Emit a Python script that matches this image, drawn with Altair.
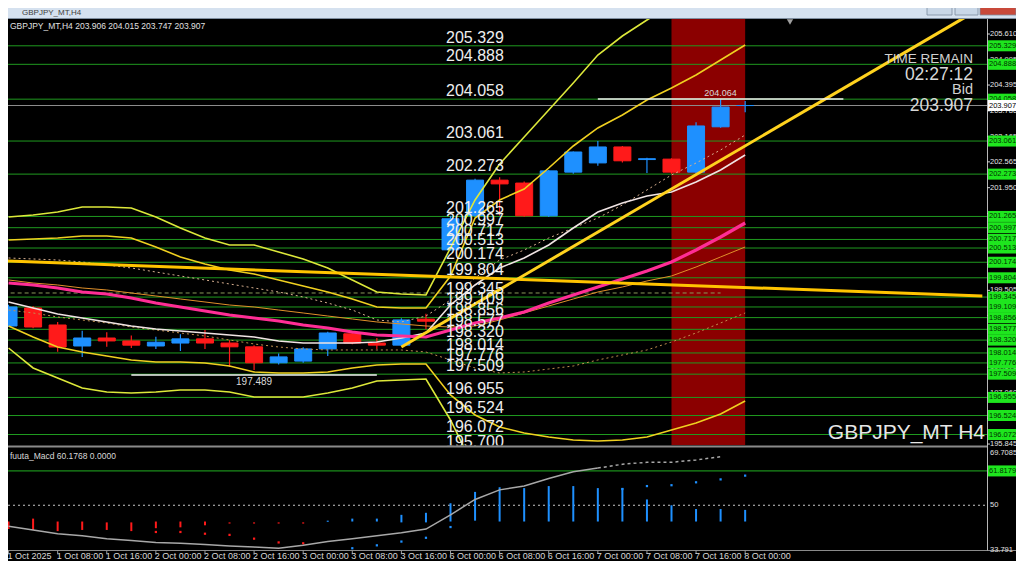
import altair as alt
import numpy as np
import pandas as pd

# ------------------------------------------------------------------ data
window_title = "GBPJPY_MT,H4"
ohlc_header = "GBPJPY_MT,H4  203.906 204.015 203.747 203.907"
macd_header = "fuuta_Macd 60.1768  0.0000"
corner_label = "GBPJPY_MT H4"
time_remain = "02:27:12"
bid_price = 203.907

bar_index = list(range(31))
opens = [198.656, 199.085, 198.680, 198.180, 198.370, 198.300, 198.180, 198.250, 198.350, 198.250,
         198.160, 197.780, 197.820, 198.110, 198.470, 198.250, 198.200, 198.820, 200.470, 201.290,
         202.130, 202.060, 201.280, 202.320, 202.540, 202.920, 202.620, 202.630, 202.320, 203.400, 203.906]
highs = [199.160, 199.130, 198.750, 198.540, 198.510, 198.430, 198.400, 198.460, 198.560, 198.320,
         198.200, 198.000, 198.150, 198.520, 198.500, 198.370, 198.840, 198.950, 201.280, 202.160,
         202.200, 202.100, 202.370, 202.810, 203.060, 202.940, 202.660, 202.650, 203.510, 204.064, 204.015]
lows = [198.630, 198.600, 198.040, 197.920, 198.160, 198.130, 198.110, 198.060, 198.110, 197.680,
        197.610, 197.740, 197.780, 197.940, 198.220, 198.110, 198.180, 198.580, 200.450, 201.250,
        201.290, 201.260, 201.250, 202.280, 202.470, 202.550, 202.300, 202.280, 202.280, 203.380, 203.747]
closes = [199.109, 198.632, 198.156, 198.370, 198.300, 198.200, 198.270, 198.350, 198.250, 198.160,
          197.780, 197.920, 198.110, 198.490, 198.250, 198.200, 198.800, 198.770, 201.210, 202.130,
          202.040, 201.280, 202.350, 202.800, 202.920, 202.590, 202.640, 202.320, 203.420, 203.870, 203.907]

time_label_bars = [0, 2, 4, 6, 8, 10, 12, 14, 16, 18, 20, 22, 24, 26, 28, 30]
time_labels = ["1 Oct 2025", "1 Oct 08:00", "1 Oct 16:00", "2 Oct 00:00", "2 Oct 08:00", "2 Oct 16:00",
               "3 Oct 00:00", "3 Oct 08:00", "3 Oct 16:00", "6 Oct 00:00", "6 Oct 08:00", "6 Oct 16:00",
               "7 Oct 00:00", "7 Oct 08:00", "7 Oct 16:00", "8 Oct 00:00"]

levels = [205.329, 204.888, 204.058, 203.061, 202.273, 201.265, 200.997, 200.717, 200.513, 200.174,
          199.804, 199.345, 199.109, 198.856, 198.577, 198.320, 198.014, 197.776, 197.509, 196.955,
          196.524, 196.072, 195.700]
price_ticks = [205.610, 204.995, 204.395, 203.780, 203.165, 202.565, 201.950, 201.335, 200.735, 200.120,
               199.505, 198.905, 198.290, 197.675, 197.060, 196.460, 195.845]

# highlighted session (bar index range)
highlight_from, highlight_to = 27, 30

# indicator lines (price per bar, starting at bar 0)
band_outer_upper = [201.252, 201.300, 201.371, 201.490, 201.490, 201.466, 201.252, 200.990, 200.752, 200.585,
                    200.585, 200.419, 200.252, 200.038, 199.752, 199.466, 199.418, 199.395, 200.514, 201.657,
                    202.514, 203.157, 203.800, 204.443, 205.110, 205.562, 205.943, 206.301]
band_inner_upper = [200.704, 200.728, 200.752, 200.800, 200.800, 200.752, 200.538, 200.300, 200.133, 199.990,
                    199.895, 199.752, 199.609, 199.466, 199.299, 199.109, 199.085, 199.085, 199.847, 201.228,
                    201.657, 201.919, 202.419, 202.943, 203.372, 203.681, 204.038, 204.324, 204.634, 204.991, 205.348]
band_inner_lower = [198.656, 198.394, 198.156, 198.037, 197.942, 197.847, 197.799, 197.799, 197.775, 197.704,
                    197.561, 197.537, 197.537, 197.561, 197.656, 197.728, 197.751, 197.751, 197.013, 196.537,
                    196.251, 196.108, 196.013, 195.941, 195.918, 195.941, 196.013, 196.180, 196.346, 196.561, 196.870]
band_outer_lower = [198.132, 197.656, 197.418, 197.180, 197.085, 197.061, 197.085, 197.132, 197.132, 197.085,
                    196.965, 196.965, 196.965, 197.061, 197.180, 197.347, 197.370, 197.394, 196.418, 195.227, 194.512]
ma_pink = [199.680, 199.633, 199.561, 199.466, 199.418, 199.323, 199.204, 199.109, 199.014, 198.918,
           198.847, 198.775, 198.680, 198.609, 198.513, 198.442, 198.418, 198.394, 198.561, 198.728,
           198.847, 198.990, 199.204, 199.395, 199.585, 199.776, 199.966, 200.180, 200.466, 200.776, 201.109]
ma_white = [199.228, 199.085, 198.942, 198.847, 198.752, 198.656, 198.585, 198.537, 198.490, 198.442,
            198.394, 198.299, 198.251, 198.251, 198.251, 198.275, 198.371, 198.490, 199.156, 199.633,
            200.038, 200.276, 200.585, 200.990, 201.371, 201.586, 201.752, 201.848, 202.086, 202.371, 202.729]
ma_orange = [199.752, 199.680, 199.633, 199.561, 199.514, 199.442, 199.371, 199.299, 199.228, 199.156,
             199.109, 199.037, 198.966, 198.894, 198.823, 198.752, 198.704, 198.656, 198.632, 198.656,
             198.799, 198.966, 199.133, 199.299, 199.466, 199.585, 199.728, 199.847, 200.061, 200.300, 200.538]
dotted_upper = [200.276, 200.252, 200.228, 200.180, 200.109, 200.038, 199.942, 199.847, 199.752, 199.657,
                199.561, 199.466, 199.347, 199.204, 199.037, 198.799, 198.752, 198.894, 199.275, 199.799,
                200.228, 200.466, 200.752, 200.990, 201.228, 201.538, 201.895, 202.252, 202.538, 202.848, 203.205]
dotted_lower = [199.037, 198.966, 198.871, 198.799, 198.728, 198.632, 198.561, 198.490, 198.418, 198.323,
                198.228, 198.156, 198.109, 198.085, 198.085, 198.085, 198.085, 198.037, 197.847, 197.656,
                197.537, 197.561, 197.632, 197.704, 197.847, 197.966, 198.085, 198.275, 198.490, 198.728, 198.966]
flat_trend_bars, flat_trend_prices = [-0.14, 39.66], [200.204, 199.371]
rising_trend_bars, rising_trend_prices = [16.0, 39.0], [198.156, 206.024]
dashed_level, dashed_from, dashed_to = 199.442, -0.2, 29.0
high_mark, high_from, high_to = 204.064, 24, 34
low_mark, low_from, low_to = 197.489, 5, 15

# oscillator panel
macd_line = [42.8, 41.5, 40.2, 39.5, 38.5, 37.9, 37.2, 36.9, 36.5, 36.0, 35.6, 35.2, 36.2, 37.5, 38.5,
             39.5, 40.5, 41.8, 46.7, 52.0, 55.3, 56.6, 59.2, 61.5, 62.8, 64.1, 64.8, 64.8, 65.6, 66.7]
hist_hi = [44.4, 45.4, 44.4, 44.4, 44.1, 44.1, 44.4, 44.4, 44.4, 44.1, 44.1, 44.1, 44.1, 44.7, 45.4, 45.4,
           46.7, 47.4, 50.7, 54.6, 56.2, 55.9, 56.6, 56.6, 55.9, 55.9, 52.0, 50.0, 48.7, 48.7, 48.4]
hist_lo = [41.8, 41.5, 41.1, 41.5, 41.5, 41.1, 42.1, 42.4, 43.1, 43.7, 43.7, 43.7, 43.7, 44.3, 44.4, 44.4,
           44.1, 44.1, 44.4, 44.7, 44.4, 44.4, 44.4, 44.4, 44.4, 44.4, 44.4, 44.4, 44.4, 44.4, 44.4]
hist_dir = ["down"] * 13 + ["up"] * 18
low_dot_bars = [6, 7, 8, 9, 10, 11, 12, 14, 15, 16, 17, 18]
low_dot_vals = [40.8, 40.8, 40.2, 39.8, 38.5, 37.2, 36.9, 35.2, 36.2, 37.5, 38.8, 42.5]
low_dot_dir = ["down"] * 7 + ["up"] * 5
up_dot_bars = [25, 26, 27, 28, 29, 30]
up_dot_vals = [55.6, 56.6, 56.9, 57.9, 58.9, 60.2]
macd_level, macd_mid = 61.8179, 50.0
macd_axis = [(69.7085, "69.7085"), (50.0, "50"), (33.791, "33.791")]

# ------------------------------------------------------------------ layout / style
W, H = 1008, 553
X_DOM = [0.18145, 40.827]
PRICE_DOM = [193.0594, 206.2292]
MACD_DOM = [30.810, 221.171]
PANEL_TOP, PANEL_BOT, AXIS_X = 11, 437, 979
FONT = "Liberation Sans, Arial, sans-serif"
BLUE, RED = "#1e90ff", "#ff1a1a"
GREEN = "#1f9a1f"
BOX_GREEN = "#1ee61e"
AXIS_FS = 7.5
BOX_HALF = 5.5 / 41.99
MACD_BOX_HALF = 5.5 / 2.905
HIDDEN_GAP = 0.09  # tick labels closer than this to a level box are fully hidden by it


def xq(f="i"):
    return alt.X(f"{f}:Q", scale=alt.Scale(domain=X_DOM, nice=False, zero=False), axis=None)


def yp(f):
    return alt.Y(f"{f}:Q", scale=alt.Scale(domain=PRICE_DOM, nice=False, zero=False), axis=None)


def ym(f):
    return alt.Y(f"{f}:Q", scale=alt.Scale(domain=MACD_DOM, nice=False, zero=False), axis=None)


dir_color = alt.Color("dir:N", scale=alt.Scale(domain=["up", "down"], range=[BLUE, RED]), legend=None)
dir_stroke = alt.Stroke("dir:N", scale=alt.Scale(domain=["up", "down"], range=[BLUE, RED]), legend=None)
one = pd.DataFrame({"k": [0]})
layers = []


def label(text, x, y, size, color="#e6e6e6", align="left", baseline="middle"):
    return alt.Chart(one).mark_text(text=text, fontSize=size, color=color, align=align, font=FONT,
                                    baseline=baseline).encode(x=alt.value(x), y=alt.value(y))


def price_line(bars, vals, color, width, dash=None):
    df = pd.DataFrame({"i": bars, "p": vals})
    kw = dict(color=color, strokeWidth=width, clip=True)
    if dash:
        kw["strokeDash"] = dash
    return alt.Chart(df).mark_line(**kw).encode(x=xq(), y=yp("p"))


def series(vals, color, width, dash=None):
    return price_line(list(range(len(vals))), vals, color, width, dash)


# --- main panel
layers.append(alt.Chart(pd.DataFrame({"a": [highlight_from], "b": [highlight_to]})).mark_rect(color="#8b0000")
              .encode(x=xq("a"), x2=alt.X2("b"), y=alt.value(PANEL_TOP), y2=alt.value(PANEL_BOT)))
lev_df = pd.DataFrame({"p": levels, "t": [f"{v:.3f}" for v in levels]})
layers.append(alt.Chart(lev_df).mark_rule(color=GREEN, strokeWidth=1)
              .encode(y=yp("p"), x=alt.value(0), x2=alt.value(AXIS_X)))
layers.append(alt.Chart(pd.DataFrame({"a": [dashed_from], "b": [dashed_to], "p": [dashed_level]}))
              .mark_rule(color="#8a9a5a", strokeWidth=1, strokeDash=[4, 3])
              .encode(x=xq("a"), x2=alt.X2("b"), y=yp("p")))
layers.append(alt.Chart(pd.DataFrame({"p": [bid_price]})).mark_rule(color="#8c8c8c", strokeWidth=1)
              .encode(y=yp("p"), x=alt.value(0), x2=alt.value(AXIS_X)))

cdf = pd.DataFrame({"i": bar_index, "o": opens, "h": highs, "l": lows, "c": closes})
cdf["dir"] = np.where(cdf.c >= cdf.o, "up", "down")
layers.append(alt.Chart(cdf).mark_rule(strokeWidth=1.2).encode(x=xq(), y=yp("l"), y2=alt.Y2("h"), color=dir_color))
layers.append(alt.Chart(cdf).mark_bar(size=17, strokeWidth=1)
              .encode(x=xq(), y=yp("o"), y2=alt.Y2("c"), color=dir_color, stroke=dir_stroke))

layers.append(series(ma_orange, "#e0902a", 1))
layers.append(series(dotted_upper, "#d8b090", 1, [2, 3]))
layers.append(series(dotted_lower, "#c09050", 1, [2, 3]))
layers.append(series(band_outer_lower, "#dde83a", 1.6))
layers.append(series(band_inner_lower, "#f0d020", 1.6))
layers.append(series(band_inner_upper, "#f0d020", 1.6))
layers.append(series(band_outer_upper, "#dde83a", 1.6))
layers.append(series(ma_white, "#f0e4e4", 1.6))
layers.append(series(ma_pink, "#ff2d95", 3.2))
layers.append(price_line(flat_trend_bars, flat_trend_prices, "#ffc400", 3))
layers.append(price_line(rising_trend_bars, rising_trend_prices, "#ffd21e", 3))

for p, a, b, dy, size in [(high_mark, high_from, high_to, -6, 9), (low_mark, low_from, low_to, 7, 10)]:
    d = pd.DataFrame({"a": [a], "b": [b], "m": [(a + b) / 2], "p": [p], "t": [f"{p:.3f}"]})
    layers.append(alt.Chart(d).mark_rule(color="#f2f2f2", strokeWidth=1.5)
                  .encode(x=xq("a"), x2=alt.X2("b"), y=yp("p")))
    layers.append(alt.Chart(d).mark_text(fontSize=size, color="#d8d8d8", font=FONT, dy=dy, baseline="middle")
                  .encode(x=xq("m"), y=yp("p"), text="t:N"))

layers.append(alt.Chart(lev_df).mark_text(fontSize=16, color="#eeeeee", font=FONT, align="left",
                                          baseline="alphabetic", dy=-3)
              .encode(x=alt.value(438), y=yp("p"), text="t:N"))

layers.append(label("TIME REMAIN", 965, 51, 13.5, "#d0d0d0", "right"))
layers.append(label(time_remain, 965, 67, 17.5, "#d8d8d8", "right"))
layers.append(label("Bid", 965, 82, 14.5, "#d0d0d0", "right"))
layers.append(label(f"{bid_price:.3f}", 965, 98, 17.5, "#d8d8d8", "right"))
layers.append(label(corner_label, 977, 425, 21, "#e6e6e6", "right"))
layers.append(label(ohlc_header, 2, 18, 8.5, "#e0e0e0"))

# --- oscillator panel
layers.append(alt.Chart(one).mark_rect(color="#000000")
              .encode(x=alt.value(0), x2=alt.value(W), y=alt.value(PANEL_BOT + 0.5), y2=alt.value(H)))
layers.append(alt.Chart(one).mark_rule(color="#8a8a8a", strokeWidth=2)
              .encode(x=alt.value(0), x2=alt.value(W), y=alt.value(438.5)))
layers.append(alt.Chart(pd.DataFrame({"v": [macd_level]})).mark_rule(color="#22b022", strokeWidth=1)
              .encode(y=ym("v"), x=alt.value(0), x2=alt.value(AXIS_X)))
layers.append(alt.Chart(pd.DataFrame({"v": [macd_mid]})).mark_rule(color="#c8c8c8", strokeWidth=1, strokeDash=[2, 3])
              .encode(y=ym("v"), x=alt.value(0), x2=alt.value(AXIS_X)))
hdf = pd.DataFrame({"i": bar_index, "lo": hist_lo, "hi": hist_hi, "dir": hist_dir})
layers.append(alt.Chart(hdf).mark_rule(strokeWidth=2).encode(x=xq(), y=ym("lo"), y2=alt.Y2("hi"), color=dir_color))
ldf = pd.DataFrame({"i": low_dot_bars, "v": low_dot_vals, "dir": low_dot_dir})
layers.append(alt.Chart(ldf).mark_square(size=5, filled=True, opacity=1).encode(x=xq(), y=ym("v"), color=dir_color))
udf = pd.DataFrame({"i": up_dot_bars, "v": up_dot_vals, "dir": ["up"] * len(up_dot_bars)})
layers.append(alt.Chart(udf).mark_square(size=5, filled=True, opacity=1).encode(x=xq(), y=ym("v"), color=dir_color))
mdf = pd.DataFrame({"i": list(range(len(macd_line))), "v": macd_line})
layers.append(alt.Chart(mdf[mdf.i <= 24]).mark_line(color="#a8a8a8", strokeWidth=1.5).encode(x=xq(), y=ym("v")))
layers.append(alt.Chart(mdf[mdf.i >= 24]).mark_line(color="#a8a8a8", strokeWidth=1.5, strokeDash=[3, 3])
              .encode(x=xq(), y=ym("v")))
layers.append(label(macd_header, 2, 448, 8.5, "#d8d8d8"))

# bottom border and time axis
layers.append(alt.Chart(one).mark_rule(color="#8a8a8a", strokeWidth=1)
              .encode(x=alt.value(0), x2=alt.value(W), y=alt.value(542.5)))
tdf = pd.DataFrame({"i": time_label_bars, "t": time_labels})
layers.append(alt.Chart(tdf).mark_rule(color="#9a9a9a").encode(x=xq(), y=alt.value(542.5), y2=alt.value(546)))
layers.append(alt.Chart(tdf).mark_text(fontSize=9, color="#d8d8d8", font=FONT, align="left", dx=-1,
                                       baseline="middle").encode(x=xq(), y=alt.value(548), text="t:N"))

# --- right price axis
layers.append(alt.Chart(one).mark_rect(color="#000000")
              .encode(x=alt.value(AXIS_X + 0.5), x2=alt.value(W), y=alt.value(PANEL_TOP), y2=alt.value(542)))
layers.append(alt.Chart(one).mark_rule(color="#b8b8b8", strokeWidth=1)
              .encode(x=alt.value(AXIS_X + 0.5), y=alt.value(PANEL_TOP), y2=alt.value(542.5)))
tick_df = pd.DataFrame({"p": price_ticks, "t": [f"{v:.3f}" for v in price_ticks]})
layers.append(alt.Chart(tick_df).mark_rule(color="#d0d0d0")
              .encode(y=yp("p"), x=alt.value(AXIS_X), x2=alt.value(AXIS_X + 3)))
lev_arr = np.array(levels)
tick_vis = tick_df[[np.min(np.abs(lev_arr - v)) > HIDDEN_GAP for v in tick_df.p]]
layers.append(alt.Chart(tick_vis).mark_text(fontSize=AXIS_FS, color="#e6e6e6", font=FONT, align="left",
                                            baseline="middle")
              .encode(x=alt.value(982), y=yp("p"), text="t:N"))
for v in levels:
    if v < 195.8:
        continue
    d = pd.DataFrame({"p": [v], "top": [v + BOX_HALF], "bot": [v - BOX_HALF], "t": [f"{v:.3f}"]})
    layers.append(alt.Chart(d).mark_rect(color=BOX_GREEN)
                  .encode(x=alt.value(980), x2=alt.value(1008), y=yp("top"), y2=alt.Y2("bot")))
    layers.append(alt.Chart(d).mark_text(fontSize=AXIS_FS, color="#003300", font=FONT, align="left",
                                         baseline="middle")
                  .encode(x=alt.value(981), y=yp("p"), text="t:N"))
bid_df = pd.DataFrame({"p": [bid_price], "top": [bid_price + BOX_HALF], "bot": [bid_price - BOX_HALF],
                       "t": [f"{bid_price:.3f}"]})
layers.append(alt.Chart(bid_df).mark_rect(color="#ffffff")
              .encode(x=alt.value(980), x2=alt.value(1008), y=yp("top"), y2=alt.Y2("bot")))
layers.append(alt.Chart(bid_df).mark_text(fontSize=AXIS_FS, color="#000000", font=FONT, align="left",
                                          baseline="middle")
              .encode(x=alt.value(981), y=yp("p"), text="t:N"))

# oscillator axis
layers.append(alt.Chart(pd.DataFrame({"v": [macd_level], "top": [macd_level + MACD_BOX_HALF],
                                      "bot": [macd_level - MACD_BOX_HALF]}))
              .mark_rect(color=BOX_GREEN).encode(x=alt.value(980), x2=alt.value(1008), y=ym("top"), y2=alt.Y2("bot")))
layers.append(alt.Chart(pd.DataFrame({"v": [macd_level], "t": [f"{macd_level:.4f}"]}))
              .mark_text(fontSize=AXIS_FS, color="#003300", font=FONT, align="left", baseline="middle")
              .encode(x=alt.value(981), y=ym("v"), text="t:N"))
for v, t in macd_axis:
    dy = 5 if v > 60 else (-2 if v < 40 else 0)
    layers.append(alt.Chart(pd.DataFrame({"v": [v], "t": [t]}))
                  .mark_text(fontSize=AXIS_FS, color="#e0e0e0", font=FONT, align="left", baseline="middle", dy=dy)
                  .encode(x=alt.value(982), y=ym("v"), text="t:N"))

# --- window chrome
layers.append(alt.Chart(one).mark_point(shape="triangle-down", size=40, filled=True, color="#a0a0a0", opacity=1)
              .encode(x=alt.value(782), y=alt.value(14)))
layers.append(alt.Chart(one).mark_rect(color="#d5e1ef")
              .encode(x=alt.value(0), x2=alt.value(W), y=alt.value(0), y2=alt.value(10)))
layers.append(alt.Chart(one).mark_rule(color="#7f8ea0", strokeWidth=1)
              .encode(x=alt.value(0), x2=alt.value(W), y=alt.value(10.5)))
layers.append(label(window_title, 14, 5, 8, "#404040"))
for x1, x2, col in [(919, 944, "#c9d7e7"), (947, 970, "#c9d7e7"), (972, 1008, "#c8493a")]:
    layers.append(alt.Chart(one).mark_rect(color=col, stroke="#7b8ca0", strokeWidth=0.8)
                  .encode(x=alt.value(x1), x2=alt.value(x2), y=alt.value(-2), y2=alt.value(7)))

chart = (alt.layer(*layers)
         .resolve_scale(y="independent")
         .properties(width=W, height=H, padding=0, background="#000000",
                     autosize=alt.AutoSizeParams(type="none"))
         .configure_view(stroke=None))

chart.save("out.html", embed_options={"renderer": "svg", "actions": False})
